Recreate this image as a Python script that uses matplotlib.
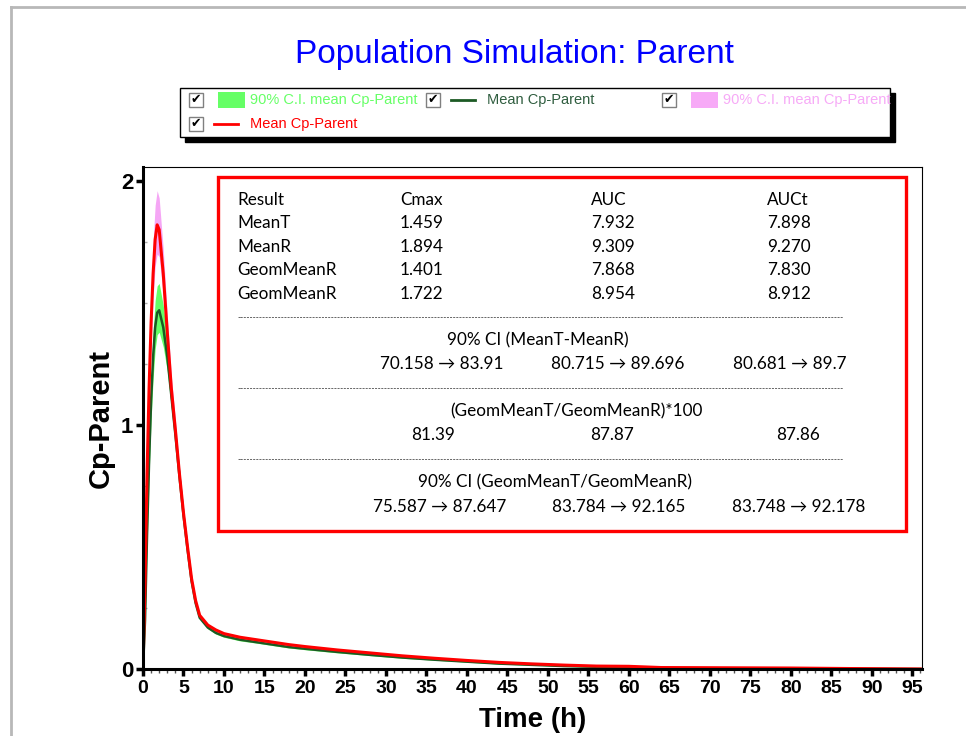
import matplotlib
matplotlib.use("Agg")
import matplotlib.pyplot as plt
from matplotlib.patches import Rectangle
from matplotlib.lines import Line2D
from matplotlib.ticker import MultipleLocator

# sampled times (h)
time_h = [0, 0.25, 0.5, 0.75, 1, 1.25, 1.5, 1.75, 2, 2.5, 3, 3.5, 4, 4.5, 5, 5.5,
          6, 6.5, 7, 8, 9, 10, 12, 14, 16, 18, 20, 24, 28, 32, 36, 40, 44, 48,
          52, 56, 60, 64, 72, 80, 87, 96]

# reference (red / pink)
mean_r = [0, 0.35, 0.80, 1.15, 1.42, 1.62, 1.76, 1.82, 1.80, 1.62, 1.38, 1.15,
          0.98, 0.80, 0.64, 0.50, 0.37, 0.28, 0.22, 0.18, 0.16, 0.145, 0.13,
          0.12, 0.11, 0.10, 0.092, 0.078, 0.066, 0.054, 0.044, 0.035, 0.027,
          0.021, 0.016, 0.012, 0.011, 0.006, 0.005, 0.004, 0.002, 0.0]
ci_r_hi = [0, 0.38, 0.86, 1.24, 1.53, 1.75, 1.90, 1.96, 1.93, 1.72, 1.45, 1.20,
           1.02, 0.83, 0.66, 0.52, 0.38, 0.29, 0.225, 0.185, 0.165, 0.15, 0.135,
           0.125, 0.114, 0.104, 0.095, 0.081, 0.068, 0.056, 0.046, 0.036, 0.028,
           0.022, 0.017, 0.013, 0.012, 0.007, 0.005, 0.004, 0.002, 0.0]
ci_r_lo = [0, 0.32, 0.75, 1.08, 1.33, 1.52, 1.65, 1.70, 1.69, 1.53, 1.32, 1.10,
           0.95, 0.78, 0.62, 0.49, 0.36, 0.27, 0.215, 0.175, 0.155, 0.14, 0.125,
           0.116, 0.106, 0.096, 0.089, 0.075, 0.063, 0.052, 0.042, 0.033, 0.026,
           0.020, 0.015, 0.011, 0.010, 0.005, 0.004, 0.003, 0.001, 0.0]

# test (green)
mean_t = [0, 0.20, 0.55, 0.85, 1.10, 1.28, 1.40, 1.46, 1.47, 1.40, 1.28, 1.12,
          0.96, 0.79, 0.63, 0.49, 0.36, 0.27, 0.21, 0.17, 0.148, 0.135, 0.12,
          0.11, 0.10, 0.09, 0.083, 0.070, 0.058, 0.047, 0.038, 0.030, 0.022,
          0.017, 0.012, 0.009, 0.007, 0.004, 0.003, 0.002, 0.001, 0.0]
ci_t_hi = [0, 0.23, 0.60, 0.92, 1.19, 1.38, 1.51, 1.57, 1.58, 1.49, 1.35, 1.17,
           1.00, 0.82, 0.65, 0.51, 0.37, 0.28, 0.215, 0.175, 0.153, 0.14, 0.125,
           0.114, 0.104, 0.094, 0.087, 0.074, 0.061, 0.050, 0.040, 0.032, 0.024,
           0.018, 0.013, 0.010, 0.008, 0.005, 0.003, 0.002, 0.001, 0.0]
ci_t_lo = [0, 0.17, 0.50, 0.79, 1.02, 1.19, 1.31, 1.37, 1.38, 1.32, 1.22, 1.07,
           0.92, 0.76, 0.61, 0.47, 0.35, 0.26, 0.205, 0.165, 0.143, 0.13, 0.115,
           0.106, 0.096, 0.086, 0.079, 0.066, 0.055, 0.044, 0.036, 0.028, 0.020,
           0.016, 0.011, 0.008, 0.006, 0.003, 0.002, 0.001, 0.0, 0.0]

# results table
tbl_header = ["Result", "Cmax", "AUC", "AUCt"]
tbl_rows = [["MeanT", "1.459", "7.932", "7.898"],
            ["MeanR", "1.894", "9.309", "9.270"],
            ["GeomMeanR", "1.401", "7.868", "7.830"],
            ["GeomMeanR", "1.722", "8.954", "8.912"]]
ci_mean = ["70.158 \u2192 83.91", "80.715 \u2192 89.696", "80.681 \u2192 89.7"]
ratio_geo = ["81.39", "87.87", "87.86"]
ci_geo = ["75.587 \u2192 87.647", "83.784 \u2192 92.165", "83.748 \u2192 92.178"]

W, H = 966, 736


def px(x, y):
    # pixel position (from top-left) -> figure fraction
    return x / W, 1 - y / H


fig = plt.figure(figsize=(9.66, 7.36), dpi=100)
fig.patch.set_facecolor("white")

# grey outer frame
fig.add_artist(Line2D([px(11, 0)[0], px(11, 0)[0]], [px(0, 7)[1], 0],
                      color="#b8b8b8", lw=2, transform=fig.transFigure))
fig.add_artist(Line2D([px(11, 0)[0], 1], [px(0, 7)[1], px(0, 7)[1]],
                      color="#b8b8b8", lw=2, transform=fig.transFigure))

# title
fig.text(*px(514, 55), "Population Simulation: Parent", color="#0000ff",
         fontsize=24, family="Liberation Sans", ha="center", va="center")

# legend box with shadow
x0, y0 = px(180, 137)
x1, y1 = px(890, 88)
sx, sy = 5 / W, 5 / H
fig.add_artist(Rectangle((x0 + sx, y0 - sy), x1 - x0, y1 - y0, facecolor="black",
                         edgecolor="black", transform=fig.transFigure))
fig.add_artist(Rectangle((x0, y0), x1 - x0, y1 - y0, facecolor="white",
                         edgecolor="black", lw=1, transform=fig.transFigure))

leg_font = ["Liberation Sans Narrow", "Liberation Sans"]


def checkbox(x, y):
    bx, by = px(x - 7, y + 7)
    fig.add_artist(Rectangle((bx, by), 14 / W, 14 / H, facecolor="white",
                             edgecolor="#808080", lw=1, transform=fig.transFigure))
    fig.text(*px(x, y), "\u2714", fontsize=9, ha="center", va="center",
             family="DejaVu Sans", color="black")


legend_items = [
    (196, 100, "patch", "#66ff66", "90% C.I. mean Cp-Parent", "#66ff66"),
    (433, 100, "line", "#1c5a24", "Mean Cp-Parent", "#2f5d3f"),
    (669, 100, "patch", "#f7aaf7", "90% C.I. mean Cp-Parent", "#f7aaf7"),
    (196, 124, "line", "#ff0000", "Mean Cp-Parent", "#ff0000"),
]
for cx, cy, kind, col, label, tcol in legend_items:
    checkbox(cx, cy)
    if kind == "patch":
        rx, ry = px(cx + 22, cy + 8)
        fig.add_artist(Rectangle((rx, ry), 27 / W, 16 / H, facecolor=col,
                                 edgecolor="none", transform=fig.transFigure))
    else:
        lx0, ly = px(cx + 18, cy)
        lx1, _ = px(cx + 42, cy)
        fig.add_artist(Line2D([lx0, lx1], [ly, ly], color=col, lw=2,
                              transform=fig.transFigure))
    fig.text(*px(cx + 54, cy), label, color=tcol, fontsize=10.5, family=leg_font,
             ha="left", va="center")

# main axes
ax = fig.add_axes([143 / W, 1 - 669 / H, (922 - 143) / W, (669 - 167) / H])
ax.fill_between(time_h, ci_t_lo, ci_t_hi, color="#66ff66", lw=0)
ax.fill_between(time_h, ci_r_lo, ci_r_hi, color="#f5a6f5", lw=0)
ax.plot(time_h, mean_t, color="#1c5a24", lw=1.8)
ax.plot(time_h, mean_r, color="#ff0000", lw=2.2)

ax.set_xlim(0, 96.2)
ax.set_ylim(0, 2.057)
ax.xaxis.set_major_locator(MultipleLocator(5))
ax.xaxis.set_minor_locator(MultipleLocator(1))
ax.yaxis.set_major_locator(MultipleLocator(1))
ax.yaxis.set_minor_locator(MultipleLocator(0.25))
ax.tick_params(axis="x", which="major", length=5, width=2.5, labelsize=14, pad=3)
ax.tick_params(axis="x", which="minor", length=3, width=1, color="#555555")
ax.tick_params(axis="y", which="major", length=5, width=2.5, labelsize=16, pad=2)
ax.tick_params(axis="y", which="minor", direction="in", length=3, width=1,
               color="#aaaaaa")
for lab in ax.get_xticklabels() + ax.get_yticklabels():
    lab.set_fontweight("bold")
    lab.set_family("Liberation Sans")
for side in ["left", "bottom"]:
    ax.spines[side].set_linewidth(2.2)
for side in ["top", "right"]:
    ax.spines[side].set_linewidth(0.8)

fig.text(*px(533, 720), "Time (h)", fontsize=20, fontweight="bold",
         family="Liberation Sans", ha="center", va="center")
fig.text(*px(101, 418), "Cp-Parent", fontsize=21, fontweight="bold",
         family="Liberation Sans", ha="center", va="center", rotation=90)

# result box
bx0, by0 = px(218, 531)
bx1, by1 = px(906, 177)
fig.add_artist(Rectangle((bx0, by0), bx1 - bx0, by1 - by0, facecolor="white",
                         edgecolor="#ff0000", lw=2.4, transform=fig.transFigure))

tf = dict(fontsize=12.3, family="Lato", color="black", va="center")
col_x = [237, 400, 591, 767]
for j, h in enumerate(tbl_header):
    fig.text(*px(col_x[j], 200), h, ha="left", **tf)
for i, row in enumerate(tbl_rows):
    for j, v in enumerate(row):
        fig.text(*px(col_x[j], 223 + 23.6 * i), v, ha="left", **tf)

for dy in [318, 389, 460]:
    fig.text(*px(237, dy), "-" * 194, ha="left", fontsize=6, family="Lato",
             va="center")

fig.text(*px(538, 340), "90% CI (MeanT-MeanR)", ha="center", **tf)
for x, v in zip([442, 618, 790], ci_mean):
    fig.text(*px(x, 364), v, ha="center", **tf)
fig.text(*px(576, 411), "(GeomMeanT/GeomMeanR)*100", ha="center", **tf)
for x, v in zip([433, 612, 798], ratio_geo):
    fig.text(*px(x, 435), v, ha="center", **tf)
fig.text(*px(555, 482), "90% CI (GeomMeanT/GeomMeanR)", ha="center", **tf)
for x, v in zip([440, 619, 799], ci_geo):
    fig.text(*px(x, 507), v, ha="center", **tf)

fig.savefig("out.png", dpi=100)
